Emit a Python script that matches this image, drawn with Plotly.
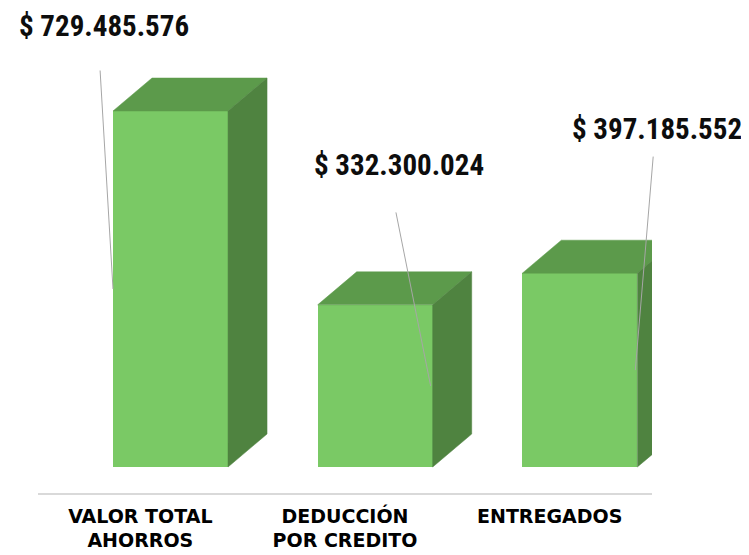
import plotly.graph_objects as go

categories = ["VALOR TOTAL<br>AHORROS", "DEDUCCIÓN<br>POR CREDITO", "ENTREGADOS"]
values = [729485576, 332300024, 397185552]
value_labels = ["$ 729.485.576", "$ 332.300.024", "$ 397.185.552"]

# layout / style constants
FRONT = "#7AC965"
TOP = "#5C9A4B"
SIDE = "#4F8340"
BAR_OFF = -0.1335
BAR_W = 0.562
DX = 0.1906          # depth in x units
DY = 67.6e6          # depth in value units
Y_RANGE = [-53.28e6, 940.55e6]

xs = list(range(len(categories)))
fig = go.Figure()

fig.add_trace(go.Bar(x=xs, y=values, base=0, width=BAR_W, offset=BAR_OFF,
                     marker=dict(color=FRONT, line=dict(width=0)),
                     hoverinfo="skip", showlegend=False))

for i, v in zip(xs, values):
    x0 = i + BAR_OFF
    x1 = x0 + BAR_W
    # top face
    fig.add_trace(go.Scatter(x=[x0, x1, x1 + DX, x0 + DX, x0],
                             y=[v, v, v + DY, v + DY, v],
                             fill="toself", fillcolor=TOP, mode="lines",
                             line=dict(color=TOP, width=0.5),
                             hoverinfo="skip", showlegend=False))
    # side face
    fig.add_trace(go.Scatter(x=[x1, x1, x1 + DX, x1 + DX, x1],
                             y=[0, v, v + DY, DY, 0],
                             fill="toself", fillcolor=SIDE, mode="lines",
                             line=dict(color=SIDE, width=0.5),
                             hoverinfo="skip", showlegend=False))

# leader line anchors (on bar edges at half height) and label pixel offsets
anchor_edge = ["left", "right", "right"]
line_offsets = [(-13, -220), (-35, -175), (18, -215)]
label_shifts = [(-9, 263), (-32, 221), (22, 241)]

LABEL_FONT = "Roboto Condensed, Liberation Sans Narrow, Arial Narrow, Roboto, sans-serif"
CAT_FONT = "DejaVu Sans, Liberation Sans, Arial, sans-serif"

for i, v in enumerate(values):
    xe = i + BAR_OFF if anchor_edge[i] == "left" else i + BAR_OFF + BAR_W - 0.01
    ax, ay = line_offsets[i]
    fig.add_annotation(x=xe, y=v / 2, xref="x", yref="y", text="",
                       showarrow=True, arrowhead=0, arrowwidth=1,
                       arrowcolor="#A6A6A6", ax=ax, ay=ay)
    sx, sy = label_shifts[i]
    fig.add_annotation(x=xe, y=v / 2, xref="x", yref="y", text=value_labels[i],
                       showarrow=False, xshift=sx, yshift=sy, borderpad=0,
                       font=dict(family=LABEL_FONT, size=29, color="#0D0D0D", weight="bold"))

fig.update_layout(
    width=741, height=547,
    margin=dict(l=30, r=97, t=0, b=62, autoexpand=False),
    paper_bgcolor="white", plot_bgcolor="white",
    showlegend=False,
    bargap=0,
)
fig.update_xaxes(range=[-0.5, 2.5], tickvals=xs, ticktext=categories,
                 showgrid=False, zeroline=False, showline=True,
                 linecolor="#D9D9D9", linewidth=1.5, ticks="",
                 ticklabelstandoff=5, automargin=False,
                 tickfont=dict(family=CAT_FONT, size=19, color="#000000", weight="bold"))
fig.update_yaxes(range=Y_RANGE, visible=False, showgrid=False, zeroline=False)

fig.write_html("out.html")
